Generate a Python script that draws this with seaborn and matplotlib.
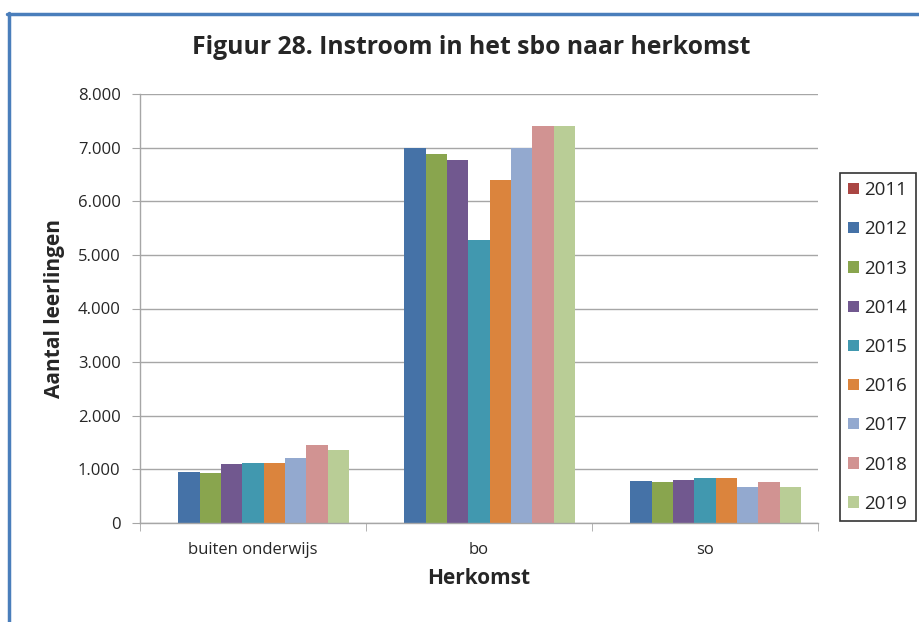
###### Libraries

import numpy as np
import pandas as pd
import matplotlib.pyplot as plt
import seaborn as sns
from matplotlib.lines import Line2D
from matplotlib.ticker import FuncFormatter, FixedLocator

###### Data

herkomst = ["buiten onderwijs", "bo", "so"]
jaren = ["2011", "2012", "2013", "2014", "2015", "2016", "2017", "2018", "2019"]

# one list per year: buiten onderwijs, bo, so  (2011 has no data)
j2011 = [0, 0, 0]
j2012 = [950, 7000, 790]
j2013 = [930, 6880, 770]
j2014 = [1100, 6765, 810]
j2015 = [1120, 5285, 845]
j2016 = [1125, 6400, 845]
j2017 = [1215, 7000, 680]
j2018 = [1450, 7400, 770]
j2019 = [1370, 7400, 675]

kleuren = ["#AA4643", "#4572A7", "#89A54E", "#71588F", "#4198AF",
           "#DB843D", "#93A9CF", "#D19392", "#B9CD96"]

waarden = [j2011, j2012, j2013, j2014, j2015, j2016, j2017, j2018, j2019]
df = pd.DataFrame([(h, j, w[i]) for j, w in zip(jaren, waarden) for i, h in enumerate(herkomst)],
                  columns=["herkomst", "jaar", "aantal"])

###### Plot

sns.set_style("white")
plt.rcParams["font.family"] = ["Open Sans", "DejaVu Sans"]

fig = plt.figure(figsize=(9.2, 6.22), dpi=100)
ax = fig.add_axes([140 / 920, 99 / 622, 678 / 920, 429 / 622])

sns.barplot(data=df, x="herkomst", y="aantal", hue="jaar", order=herkomst,
            hue_order=jaren, palette=kleuren, width=0.85, linewidth=0,
            saturation=1, ax=ax)

ax.set_ylim(0, 8000)
ax.set_xlim(-0.5, 2.5)
ax.yaxis.set_major_locator(FixedLocator(np.arange(0, 8001, 1000)))
ax.yaxis.set_major_formatter(FuncFormatter(lambda v, p: "0" if v == 0 else f"{int(v):,}".replace(",", ".")))
ax.grid(axis="y", color="#A6A6A6", linewidth=1)
ax.set_axisbelow(True)

for s in ["top", "right"]:
    ax.spines[s].set_visible(False)
for s in ["left", "bottom"]:
    ax.spines[s].set_color("#A6A6A6")
    ax.spines[s].set_linewidth(1)

ax.tick_params(axis="y", labelsize=12, length=6, color="#A6A6A6", direction="out", left=True, pad=8)
ax.tick_params(axis="x", labelsize=12, length=0, pad=14)
ax.set_xticks([0, 1, 2])
ax.set_xticks([-0.5, 0.5, 1.5, 2.5], minor=True)
ax.tick_params(axis="x", which="minor", length=6, color="#A6A6A6", direction="out", bottom=True)

ax.set_xlabel("Herkomst", fontsize=15, fontweight="bold", labelpad=7)
ax.set_ylabel("Aantal leerlingen", fontsize=15, fontweight="bold", labelpad=9)

fig.text(0.5125, 1 - 48 / 622, "Figuur 28. Instroom in het sbo naar herkomst",
         ha="center", va="center", fontsize=17.8, fontweight="bold")

handles, labels = ax.get_legend_handles_labels()
ax.legend(handles, labels, loc="center left", bbox_to_anchor=(840 / 920, 1 - 347 / 622),
          bbox_transform=fig.transFigure, borderaxespad=0, frameon=True, fancybox=False,
          edgecolor="black", fontsize=13.5, handlelength=0.55, handleheight=0.55,
          handletextpad=0.3, labelspacing=1.13, borderpad=0.45, title=None)
ax.get_legend().get_frame().set_linewidth(1.2)

# blue frame of the chart area
fig.add_artist(Line2D([8.5 / 920, 8.5 / 920], [0, 1 - 13 / 622], color="#4A7EBB", linewidth=2.5, transform=fig.transFigure))
fig.add_artist(Line2D([7 / 920, 1], [1 - 14 / 622, 1 - 14 / 622], color="#4A7EBB", linewidth=2.5, transform=fig.transFigure))

fig.savefig("out.png", dpi=100)
